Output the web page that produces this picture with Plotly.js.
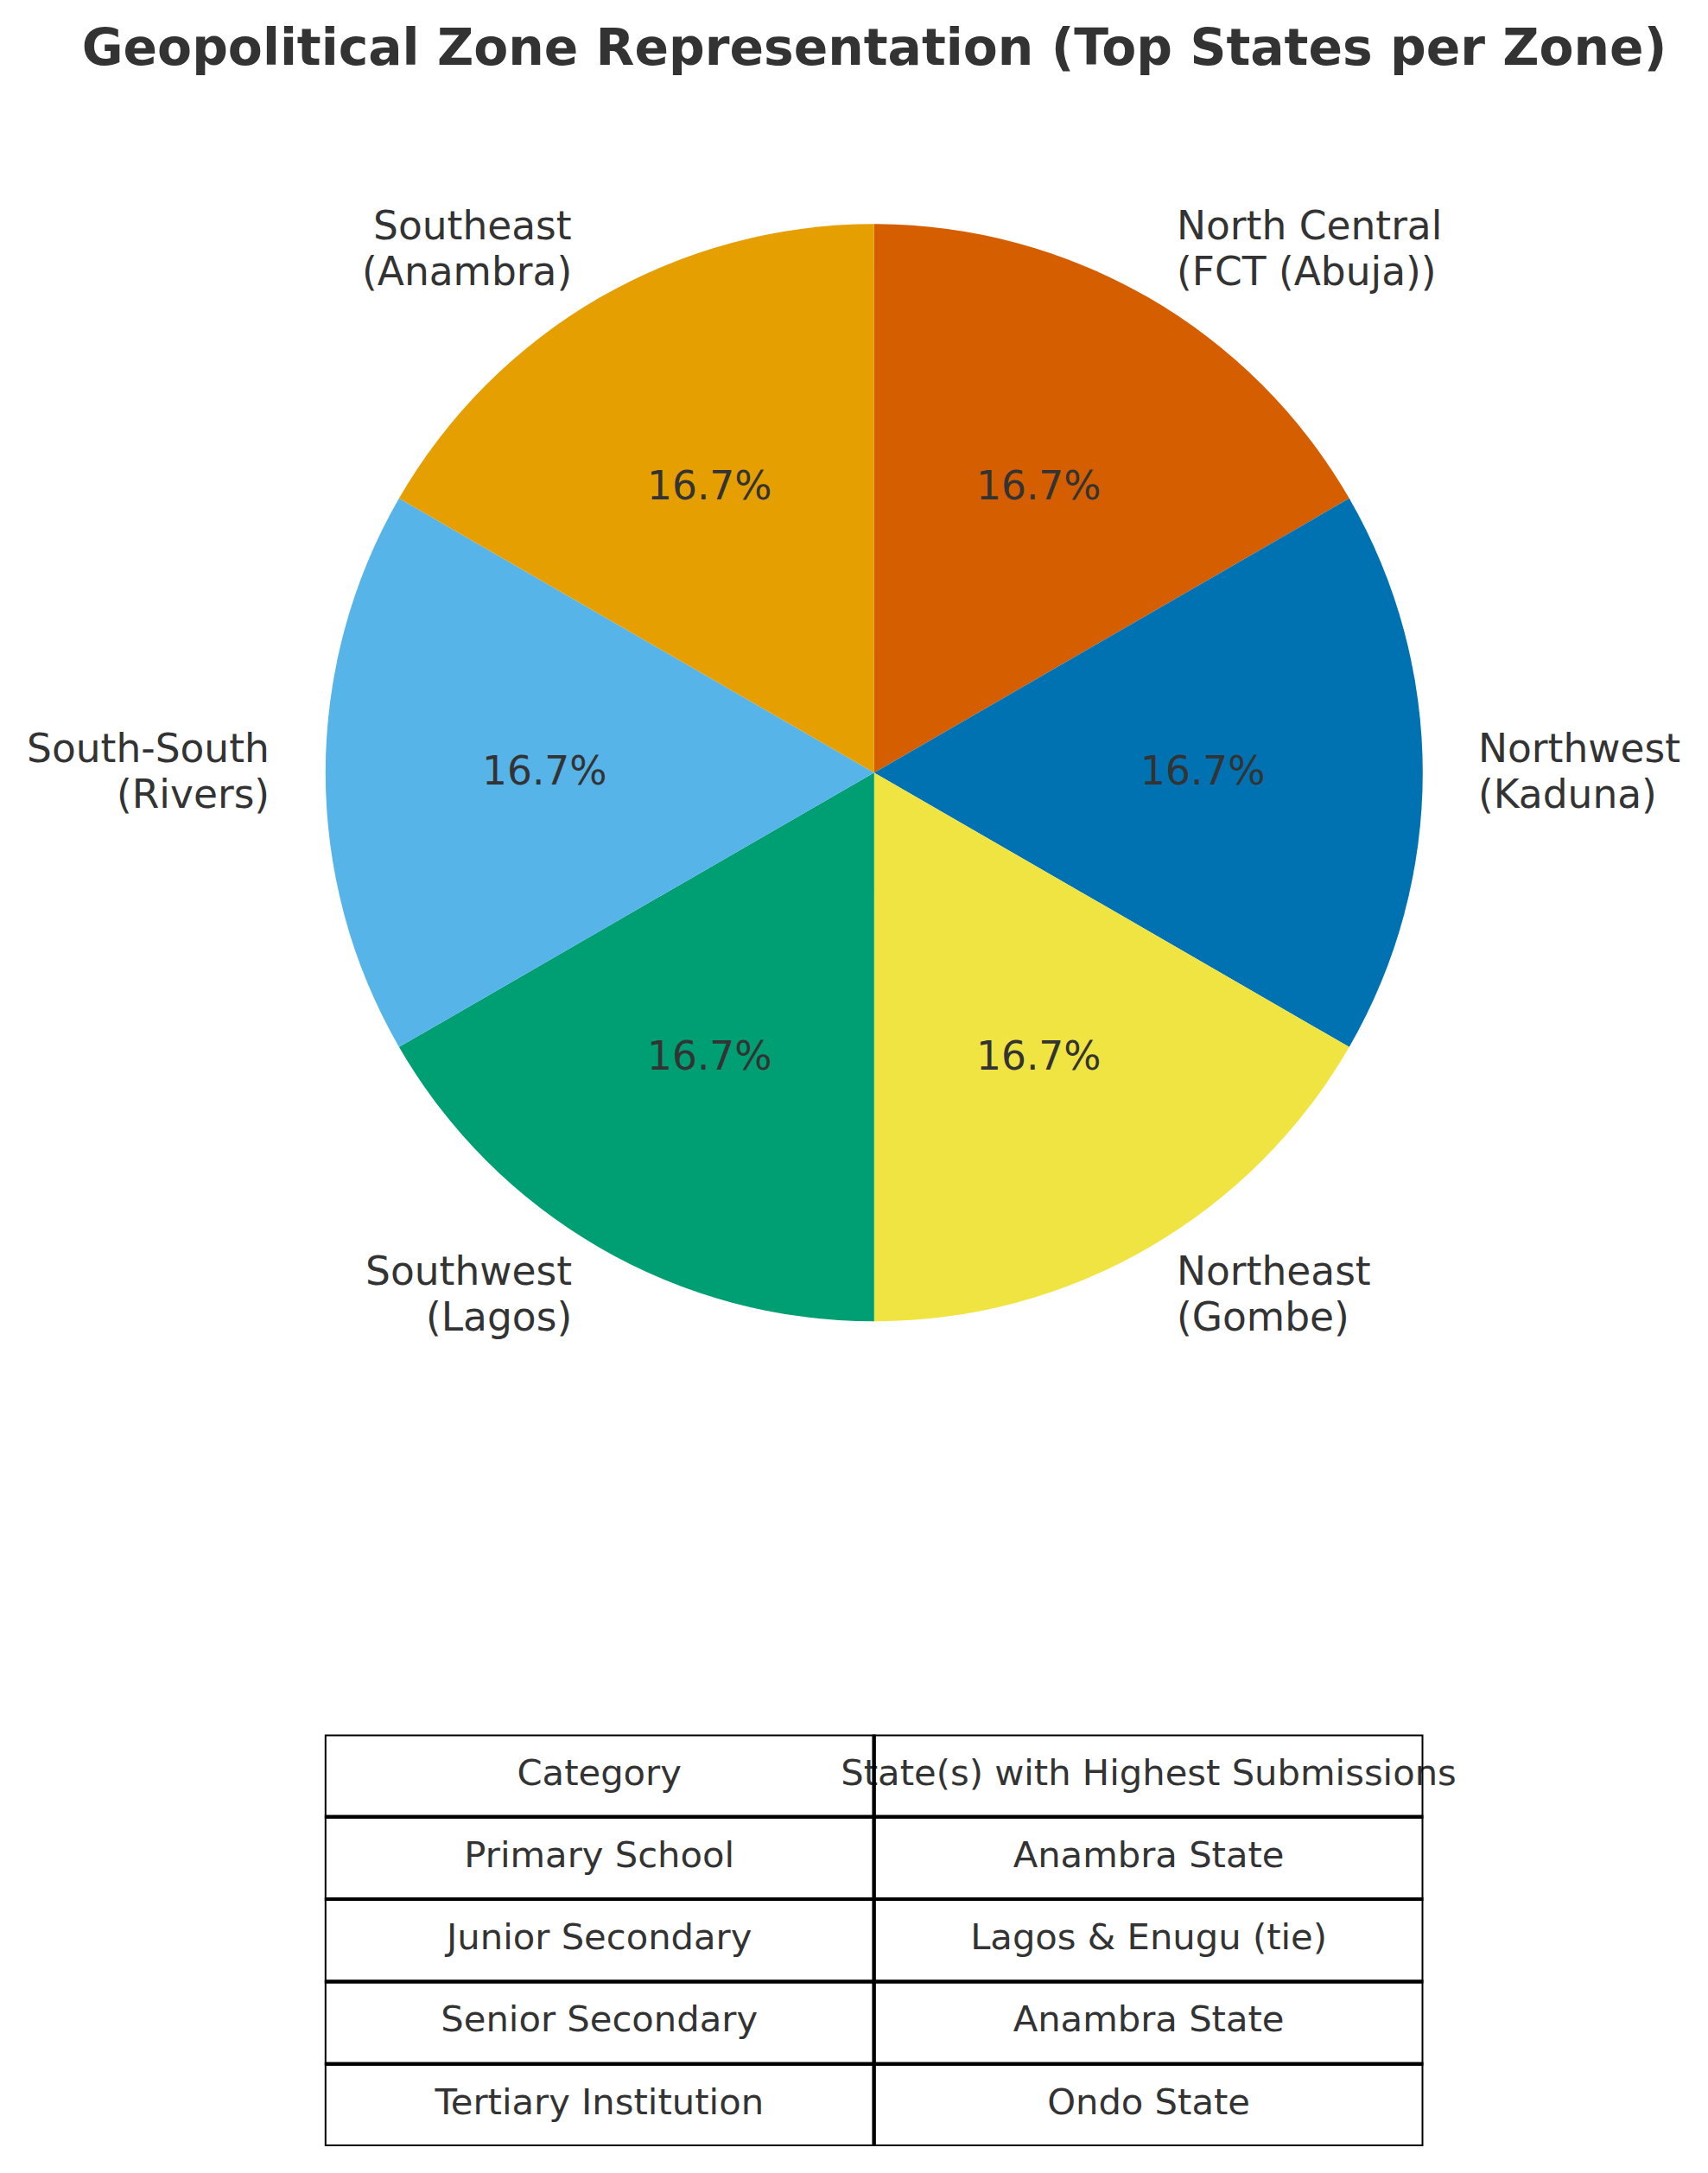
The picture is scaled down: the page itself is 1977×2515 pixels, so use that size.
<!DOCTYPE html>
<html>
<head>
<meta charset="utf-8">
<script src="https://cdn.plot.ly/plotly-3.0.1.min.js"></script>
<style>html,body{margin:0;padding:0;background:#fff;}#chart{width:1977px;height:2515px;}</style>
</head>
<body>
<div id="chart"></div>
<script>
// ---- data ----
var zones = ["North Central", "Northwest", "Northeast", "Southwest", "South-South", "Southeast"];
var topStates = ["FCT (Abuja)", "Kaduna", "Gombe", "Lagos", "Rivers", "Anambra"];
var zoneValues = [1, 1, 1, 1, 1, 1];
var zoneColors = ["#D55E00", "#0072B2", "#F0E442", "#009E73", "#56B4E9", "#E69F00"];

var tableHeader = ["Category", "State(s) with Highest Submissions"];
var categories = ["Primary School", "Junior Secondary", "Senior Secondary", "Tertiary Institution"];
var states = ["Anambra State", "Lagos & Enugu (tie)", "Anambra State", "Ondo State"];

var titleText = "Geopolitical Zone Representation (Top States per Zone)";

// ---- layout geometry ----
var W = 1977, H = 2515;
var cx = 1011.8, cy = 894.3, R = 635;      // pie centre and radius in px
var pieDomX = [(cx - R) / W, (cx + R) / W];
var pieDomY = [1 - (cy + R) / H, 1 - (cy - R) / H];
var ext = 1.3;                             // overlay axis half-range in radius units
var ovDomX = [(cx - ext * R) / W, (cx + ext * R) / W];
var ovDomY = [1 - (cy + ext * R) / H, 1 - (cy - ext * R) / H];
var tabDomX = [375.8 / W, 1647.5 / W];
var tabDomY = [1 - 2484 / H, 1 - 2007.5 / H];
var txtColor = "#333333";
var font = "DejaVu Sans, Verdana, sans-serif";
var lblSize = 45.5;

// ---- pie label positions from the values ----
var total = zoneValues.reduce(function (a, b) { return a + b; }, 0);
var cum = 0;
var annotations = [];
zoneValues.forEach(function (v, i) {
  var mid = cum + v / 2;
  cum += v;
  var ang = (90 - 360 * mid / total) * Math.PI / 180;
  var c = Math.cos(ang), s = Math.sin(ang);
  // percentage inside the wedge
  annotations.push({
    xref: "x", yref: "y", x: 0.6 * c, y: 0.6 * s, yshift: 2,
    text: (100 * v / total).toFixed(1) + "%",
    showarrow: false, xanchor: "center", yanchor: "middle", borderpad: 0,
    font: { family: font, size: lblSize, color: txtColor }
  });
  // outer label, two lines
  var lines = [zones[i], "(" + topStates[i] + ")"];
  lines.forEach(function (ln, k) {
    annotations.push({
      xref: "x", yref: "y", x: 1.1 * c, y: 1.1 * s,
      yshift: (k === 0 ? 1 : -1) * 26.5 + 1,
      text: ln,
      showarrow: false,
      xanchor: c > 0 ? "left" : "right",
      yanchor: "middle",
      borderpad: 0,
      font: { family: font, size: lblSize, color: txtColor }
    });
  });
});

// ---- table cells ----
var rows = [tableHeader];
categories.forEach(function (c, i) { rows.push([c, states[i]]); });
var shapes = [];
var cellX = [], cellY = [], cellText = [];
rows.forEach(function (row, r) {
  row.forEach(function (t, c) {
    shapes.push({
      type: "rect", xref: "x2", yref: "y2",
      x0: c, x1: c + 1, y0: r, y1: r + 1,
      line: { color: "#000000", width: 4 },
      fillcolor: "rgba(0,0,0,0)", layer: "above"
    });
    cellX.push(c + 0.5); cellY.push(r + 0.5); cellText.push(t);
  });
});

var data = [
  {
    type: "pie",
    labels: zones,
    values: zoneValues,
    sort: false,
    direction: "clockwise",
    rotation: 0,
    marker: { colors: zoneColors, line: { width: 0 } },
    textinfo: "none",
    textposition: "none",
    hoverinfo: "skip",
    showlegend: false,
    domain: { x: pieDomX, y: pieDomY }
  },
  {
    type: "scatter", mode: "text",
    x: cellX, y: cellY, text: cellText,
    textposition: "middle center",
    textfont: { family: font, size: 41.7, color: txtColor },
    xaxis: "x2", yaxis: "y2",
    hoverinfo: "skip", showlegend: false, cliponaxis: false
  }
];

var hidden = { showgrid: false, zeroline: false, showticklabels: false, ticks: "", showline: false, fixedrange: true };

var layout = {
  width: W, height: H,
  margin: { l: 0, r: 0, t: 0, b: 0, pad: 0 },
  paper_bgcolor: "#ffffff",
  plot_bgcolor: "rgba(0,0,0,0)",
  showlegend: false,
  title: {
    text: "<b>" + titleText + "</b>",
    x: 1012 / W, xanchor: "center", xref: "paper",
    y: 1 - 55 / H, yanchor: "middle", yref: "paper",
    font: { family: font, size: 58.3, color: txtColor }
  },
  xaxis: Object.assign({ domain: ovDomX, range: [-ext, ext], anchor: "y" }, hidden),
  yaxis: Object.assign({ domain: ovDomY, range: [-ext, ext], anchor: "x" }, hidden),
  xaxis2: Object.assign({ domain: tabDomX, range: [0, 2], anchor: "y2" }, hidden),
  yaxis2: Object.assign({ domain: tabDomY, range: [5, 0], anchor: "x2" }, hidden),
  annotations: annotations,
  shapes: shapes
};

Plotly.newPlot("chart", data, layout, { displayModeBar: false, staticPlot: true });
</script>
</body>
</html>
